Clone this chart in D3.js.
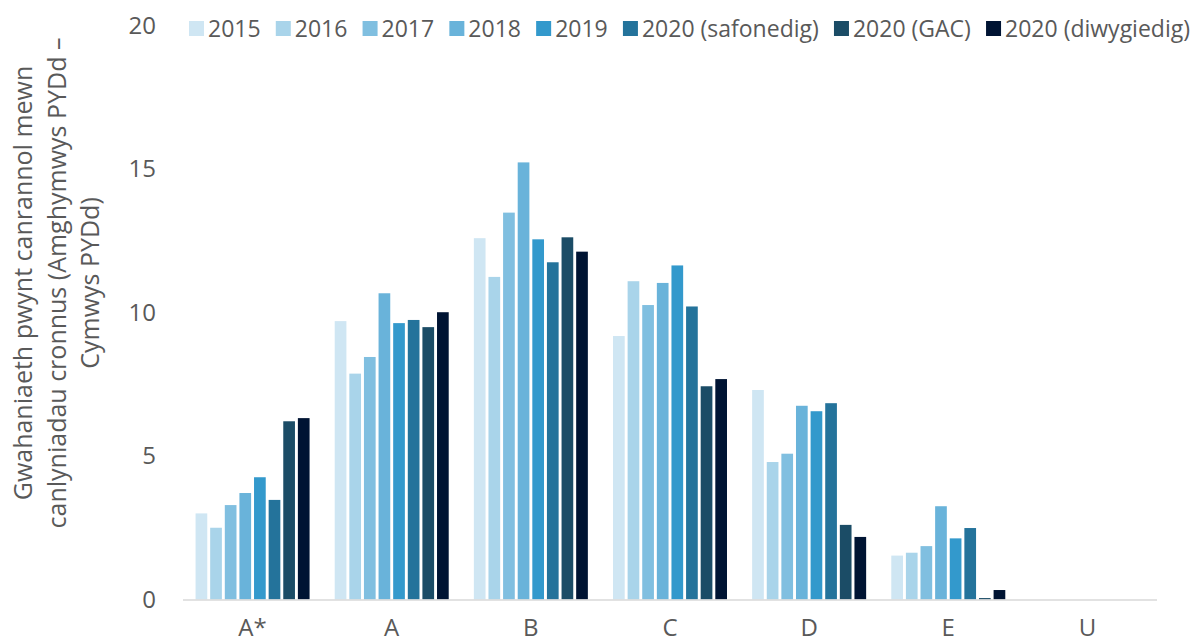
<!DOCTYPE html>
<html>
<head>
<meta charset="utf-8">
<script src="https://cdn.jsdelivr.net/npm/d3@7"></script>
<style>
  body { margin: 0; background: #fff; }
  svg { font-family: "Open Sans", "Noto Sans", sans-serif; }
</style>
</head>
<body>
<div id="chart"></div>
<script>
const width = 1195;
const height = 643;

// data
const grades = ["A*", "A", "B", "C", "D", "E", "U"];
const series = ["2015", "2016", "2017", "2018", "2019", "2020 (safonedig)", "2020 (GAC)", "2020 (diwygiedig)"];
const colors = ["#cfe6f3", "#a9d4ea", "#80bfe0", "#69b3da", "#3399cc", "#24739b", "#1b4c66", "#001433"];
const v2015 = [3.00, 9.70, 12.59, 9.18, 7.30, 1.53, 0];
const v2016 = [2.50, 7.87, 11.24, 11.09, 4.79, 1.63, 0];
const v2017 = [3.29, 8.45, 13.48, 10.26, 5.08, 1.86, 0];
const v2018 = [3.71, 10.67, 15.23, 11.03, 6.75, 3.25, 0];
const v2019 = [4.26, 9.63, 12.55, 11.64, 6.56, 2.13, 0];
const v2020saf = [3.47, 9.74, 11.75, 10.21, 6.84, 2.49, 0];
const v2020gac = [6.21, 9.49, 12.62, 7.43, 2.60, 0.05, 0];
const v2020diw = [6.32, 10.01, 12.12, 7.68, 2.18, 0.33, 0];
const values = [v2015, v2016, v2017, v2018, v2019, v2020saf, v2020gac, v2020diw];
const yTicks = [0, 5, 10, 15, 20];
const yTitle = ["Gwahaniaeth pwynt canrannol mewn", "canlyniadau cronnus (Amghymwys PYDd \u2013", "Cymwys PYDd)"];

const textColor = "#595959";

const svg = d3.select("#chart")
  .append("svg")
  .attr("width", width)
  .attr("height", height);

// scales
const xScale = d3.scaleBand()
  .domain(grades)
  .range([183, 1157]);

const xInner = d3.scaleBand()
  .domain(series)
  .range([0, xScale.bandwidth()])
  .paddingInner(0.2)
  .paddingOuter(0.86);

const yScale = d3.scaleLinear()
  .domain([0, 20])
  .range([599.5, 25.5]);

// bars
series.forEach((s, i) => {
  svg.append("g")
    .selectAll("rect")
    .data(values[i])
    .enter()
    .append("rect")
    .attr("x", (d, j) => xScale(grades[j]) + xInner(s))
    .attr("y", d => yScale(d))
    .attr("width", xInner.bandwidth())
    .attr("height", d => yScale(0) - yScale(d))
    .attr("fill", colors[i]);
});

// x axis line
svg.append("line")
  .attr("x1", xScale.range()[0])
  .attr("x2", xScale.range()[1])
  .attr("y1", yScale(0) + 0.5)
  .attr("y2", yScale(0) + 0.5)
  .attr("stroke", "#d9d9d9")
  .attr("stroke-width", 1.5);

// x labels
svg.append("g")
  .selectAll("text")
  .data(grades)
  .enter()
  .append("text")
  .attr("x", d => xScale(d) + xScale.bandwidth() / 2)
  .attr("y", 636)
  .attr("text-anchor", "middle")
  .attr("font-size", 24)
  .attr("fill", textColor)
  .text(d => d);

// y labels
svg.append("g")
  .selectAll("text")
  .data(yTicks)
  .enter()
  .append("text")
  .attr("x", 156)
  .attr("y", d => yScale(d))
  .attr("dy", "0.35em")
  .attr("text-anchor", "end")
  .attr("font-size", 24)
  .attr("fill", textColor)
  .text(d => d);

// y title
const title = svg.append("text")
  .attr("transform", "translate(0, 283) rotate(-90)")
  .attr("text-anchor", "middle")
  .attr("font-size", 25)
  .attr("fill", textColor);

yTitle.forEach((line, i) => {
  title.append("tspan")
    .attr("x", 0)
    .attr("y", 32 + i * 33.5)
    .text(line);
});

// legend
const legend = svg.append("g");
const items = series.map((s, i) => {
  const g = legend.append("g");
  g.append("rect")
    .attr("width", 15)
    .attr("height", 15)
    .attr("y", -8)
    .attr("fill", colors[i]);
  const t = g.append("text")
    .attr("x", 19)
    .attr("dy", "0.35em")
    .attr("font-size", 23)
    .attr("fill", textColor)
    .text(s);
  return { g, w: 19 + t.node().getComputedTextLength() };
});

const legendStart = 189;
const legendEnd = 1190;
const totalW = d3.sum(items, d => d.w);
const gap = (legendEnd - legendStart - totalW) / (items.length - 1);
let cx = legendStart;
items.forEach(item => {
  item.g.attr("transform", `translate(${cx}, 29)`);
  cx += item.w + gap;
});
</script>
</body>
</html>
